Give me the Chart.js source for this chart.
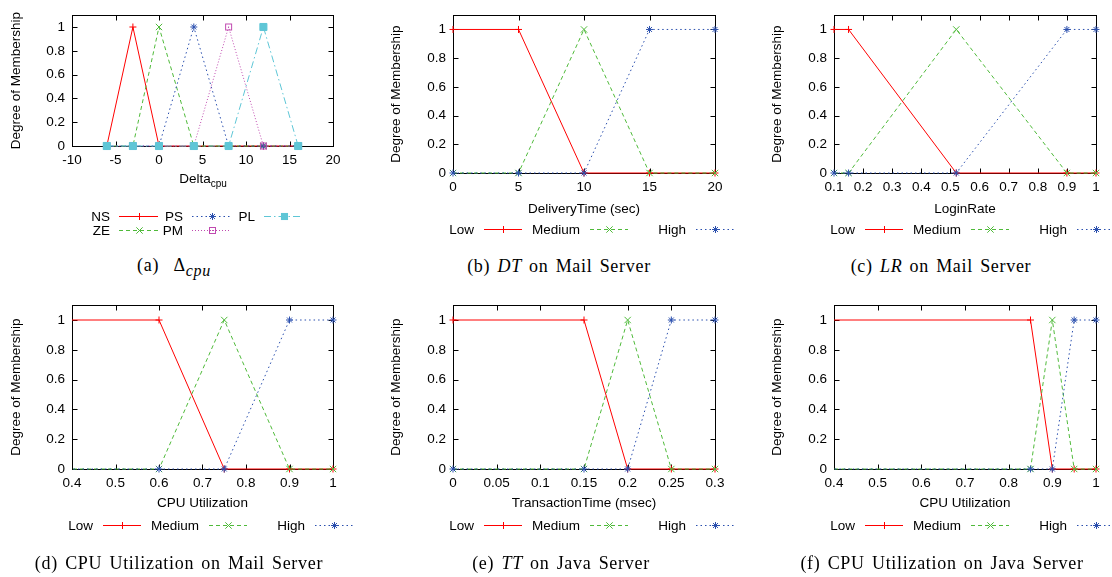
<!DOCTYPE html>
<html>
<head>
<meta charset="utf-8">
<script src="https://cdn.jsdelivr.net/npm/chart.js@4.4.1/dist/chart.umd.min.js"></script>
<style>
  html, body { margin: 0; padding: 0; background: #fff; }
  #fig { position: relative; width: 1112px; height: 577px; overflow: hidden; }
  canvas { position: absolute; }
  .cap { position: absolute; width: 380px; text-align: center; font-family: "Liberation Serif", "Times New Roman", serif;
         font-size: 18px; line-height: 20px; color: #000; white-space: nowrap; word-spacing: 2px; letter-spacing: 0.7px; }
  .cap sub { font-size: 16px; vertical-align: -5px; line-height: 0; }
  .xt { position: absolute; width: 120px; text-align: center; font-family: "Liberation Sans", Arial, sans-serif;
        font-size: 13.5px; line-height: 16px; color: #000; white-space: nowrap; }
  .xt sub { font-size: 10px; vertical-align: -4px; line-height: 0; }
</style>
</head>
<body>
<div id="fig">
  <canvas id="pa" width="370" height="250" style="left:0;top:0"></canvas>
  <canvas id="pb" width="370" height="250" style="left:370px;top:0"></canvas>
  <canvas id="pc" width="372" height="250" style="left:740px;top:0"></canvas>
  <canvas id="pd" width="370" height="287" style="left:0;top:290px"></canvas>
  <canvas id="pe" width="370" height="287" style="left:370px;top:290px"></canvas>
  <canvas id="pf" width="372" height="287" style="left:740px;top:290px"></canvas>

  <div class="xt" style="left:143px;top:171px">Delta<sub>cpu</sub></div>

  <div class="cap" style="left:-16px;top:255px">(a)&nbsp; Δ<sub><i>cpu</i></sub></div>
  <div class="cap" style="left:369px;top:256px">(b) <i>DT</i> on Mail Server</div>
  <div class="cap" style="left:751px;top:256px">(c) <i>LR</i> on Mail Server</div>
  <div class="cap" style="left:-11px;top:553px">(d) CPU Utilization on Mail Server</div>
  <div class="cap" style="left:371px;top:553px">(e) <i>TT</i> on Java Server</div>
  <div class="cap" style="left:752px;top:553px">(f) CPU Utilization on Java Server</div>
</div>
<script>
  // membership functions
  var yTicks = [0, 0.2, 0.4, 0.6, 0.8, 1];

  var deltaX = [-6, -3, 0, 4, 8, 12, 16];
  var deltaNS = [0, 1, 0, 0, 0, 0, 0];
  var deltaZE = [0, 0, 1, 0, 0, 0, 0];
  var deltaPS = [0, 0, 0, 1, 0, 0, 0];
  var deltaPM = [0, 0, 0, 0, 1, 0, 0];
  var deltaPL = [0, 0, 0, 0, 0, 1, 0];
  var deltaTicks = [-10, -5, 0, 5, 10, 15, 20];

  var dtX = [0, 5, 10, 15, 20];
  var dtLow = [1, 1, 0, 0, 0];
  var dtMedium = [0, 0, 1, 0, 0];
  var dtHigh = [0, 0, 0, 1, 1];
  var dtTicks = [0, 5, 10, 15, 20];

  var lrX = [0.1, 0.15, 0.52, 0.9, 1];
  var lrLow = [1, 1, 0, 0, 0];
  var lrMedium = [0, 0, 1, 0, 0];
  var lrHigh = [0, 0, 0, 1, 1];
  var lrTicks = [0.1, 0.2, 0.3, 0.4, 0.5, 0.6, 0.7, 0.8, 0.9, 1];

  var mailCpuX = [0, 0.6, 0.75, 0.9, 1];
  var mailCpuLow = [1, 1, 0, 0, 0];
  var mailCpuMedium = [0, 0, 1, 0, 0];
  var mailCpuHigh = [0, 0, 0, 1, 1];
  var cpuTicks = [0.4, 0.5, 0.6, 0.7, 0.8, 0.9, 1];

  var ttX = [0, 0.15, 0.2, 0.25, 0.3];
  var ttLow = [1, 1, 0, 0, 0];
  var ttMedium = [0, 0, 1, 0, 0];
  var ttHigh = [0, 0, 0, 1, 1];
  var ttTicks = [0, 0.05, 0.1, 0.15, 0.2, 0.25, 0.3];

  var javaCpuX = [0, 0.85, 0.9, 0.95, 1];
  var javaCpuLow = [1, 1, 0, 0, 0];
  var javaCpuMedium = [0, 0, 1, 0, 0];
  var javaCpuHigh = [0, 0, 0, 1, 1];

  var SANS = "'Liberation Sans', Arial, sans-serif";
  var FONT_SIZE = 13.5;
  var LH = FONT_SIZE * 1.2;
  Chart.defaults.font.family = SANS;
  Chart.defaults.font.size = FONT_SIZE;
  Chart.defaults.color = "#000";

  // open square with a dot (gnuplot pt 4-ish)
  var openSquare = document.createElement("canvas");
  openSquare.width = 9;
  openSquare.height = 9;
  (function () {
    var c = openSquare.getContext("2d");
    c.strokeStyle = "#c04ab0";
    c.lineWidth = 1;
    c.strokeRect(1.5, 1.5, 6, 6);
    c.fillStyle = "#c04ab0";
    c.fillRect(4, 4, 1, 1);
  })();

  var LOW = { color: "#ff0000", dash: [], marker: "cross", r: 3.5 };
  var MEDIUM = { color: "#4fba3a", dash: [4, 3], marker: "crossRot", r: 4.5 };
  var HIGH = { color: "#2a4fae", dash: [1.5, 3], marker: "star", r: 3.5 };
  var PM = { color: "#c04ab0", dash: [1, 2], marker: openSquare, r: 4.5 };
  var PL = { color: "#5ec6d6", dash: [7, 3, 1.5, 3], marker: "rect", r: 5 };

  function drawMarker(ctx, style, x, y) {
    var r = style.r, d = r * Math.SQRT1_2;
    ctx.save();
    ctx.setLineDash([]);
    ctx.strokeStyle = style.color;
    ctx.fillStyle = style.color;
    ctx.lineWidth = 1;
    ctx.beginPath();
    if (style.marker === "cross" || style.marker === "star") {
      ctx.moveTo(x - r, y); ctx.lineTo(x + r, y);
      ctx.moveTo(x, y - r); ctx.lineTo(x, y + r);
    }
    if (style.marker === "crossRot" || style.marker === "star") {
      ctx.moveTo(x - d, y - d); ctx.lineTo(x + d, y + d);
      ctx.moveTo(x - d, y + d); ctx.lineTo(x + d, y - d);
    }
    ctx.stroke();
    if (style.marker === "rect") {
      ctx.fillRect(x - d, y - d, 2 * d, 2 * d);
    } else if (typeof style.marker !== "string") {
      ctx.drawImage(style.marker, x - style.marker.width / 2, y - style.marker.height / 2);
    }
    ctx.restore();
  }

  function panel(id, p) {
    var canvas = document.getElementById(id);
    var W = canvas.width, H = canvas.height, HX = 60;
    var n = p.series.length;

    var datasets = p.series.map(function (s, i) {
      return {
        label: s.label,
        data: p.xs.map(function (x, k) { return { x: x, y: s.ys[k] }; }),
        borderColor: s.style.color,
        backgroundColor: s.style.color,
        borderWidth: 1,
        borderDash: s.style.dash,
        pointStyle: s.style.marker,
        pointRadius: s.style.r,
        pointHoverRadius: s.style.r,
        pointBorderWidth: 1,
        pointBorderColor: s.style.color,
        pointBackgroundColor: s.style.color,
        showLine: true,
        tension: 0,
        order: n - i,
        clip: p.clip
      };
    });

    var framePlugin = {
      id: "frame",
      beforeDatasetsDraw: function (chart) {
        var ctx = chart.ctx, a = chart.chartArea;
        var xs = chart.scales.x, ys = chart.scales.y;
        var L = Math.round(a.left) + 0.5, R = Math.round(a.right) + 0.5;
        var T = Math.round(a.top) + 0.5, B = Math.round(a.bottom) + 0.5;
        ctx.save();
        ctx.strokeStyle = "#000";
        ctx.lineWidth = 1;
        ctx.beginPath();
        p.xTicks.forEach(function (v) {
          var px = Math.round(xs.getPixelForValue(v)) + 0.5;
          ctx.moveTo(px, B); ctx.lineTo(px, B - 5);
          ctx.moveTo(px, T); ctx.lineTo(px, T + 5);
        });
        yTicks.forEach(function (v) {
          var py = Math.round(ys.getPixelForValue(v)) + 0.5;
          ctx.moveTo(L, py); ctx.lineTo(L + 5, py);
          ctx.moveTo(R, py); ctx.lineTo(R - 5, py);
        });
        ctx.stroke();
        ctx.strokeRect(L, T, R - L, B - T);
        ctx.restore();
      },
      afterDraw: function (chart) {
        var ctx = chart.ctx, a = chart.chartArea, lg = p.legend;
        ctx.save();
        ctx.font = FONT_SIZE + "px " + SANS;
        ctx.textAlign = "right";
        ctx.textBaseline = "middle";
        p.series.forEach(function (s, i) {
          var col = Math.floor(i / lg.rows), row = i % lg.rows;
          var xr = Math.round(a.left + lg.first + col * lg.step);
          var y = Math.round(a.bottom + lg.y + row * lg.rowStep) + 0.5;
          ctx.fillStyle = "#000";
          ctx.fillText(s.label, xr, y + 0.5);
          ctx.strokeStyle = s.style.color;
          ctx.lineWidth = 1;
          ctx.setLineDash(s.style.dash);
          ctx.beginPath();
          ctx.moveTo(xr + lg.gap, y);
          ctx.lineTo(xr + lg.gap + lg.len, y);
          ctx.stroke();
          ctx.setLineDash([]);
          drawMarker(ctx, s.style, Math.round(xr + lg.gap + lg.len / 2) + 0.5, y);
        });
        ctx.restore();
      }
    };

    return new Chart(canvas, {
      type: "scatter",
      data: { datasets: datasets },
      options: {
        responsive: false,
        animation: false,
        devicePixelRatio: 1,
        events: [],
        layout: { padding: { left: 0, top: p.area.t, right: W - p.area.r, bottom: H - p.area.b - HX } },
        plugins: { legend: { display: false }, tooltip: { enabled: false } },
        scales: {
          x: {
            type: "linear",
            min: p.xMin,
            max: p.xMax,
            grid: { display: false, drawTicks: false },
            border: { display: false },
            afterBuildTicks: function (scale) { scale.ticks = p.xTicks.map(function (v) { return { value: v }; }); },
            afterFit: function (scale) { scale.height = HX; },
            ticks: { padding: 6.4, maxRotation: 0, autoSkip: false, callback: function (v) { return String(v); } },
            title: p.xTitle ? {
              display: true,
              text: p.xTitle,
              padding: { top: 0, bottom: HX - p.xTitleOff - LH / 2 }
            } : { display: false }
          },
          y: {
            type: "linear",
            min: 0,
            max: 1.1,
            grid: { display: false, drawTicks: false },
            border: { display: false },
            afterBuildTicks: function (scale) { scale.ticks = yTicks.map(function (v) { return { value: v }; }); },
            afterFit: function (scale) { scale.width = p.area.l; },
            ticks: { padding: 7, autoSkip: false, callback: function (v) { return String(v); } },
            title: {
              display: true,
              text: "Degree of Membership",
              padding: { top: p.yTitleX - LH / 2, bottom: 0 }
            }
          }
        }
      },
      plugins: [framePlugin]
    });
  }

  var rowLegend = { first: 21, step: 106, rows: 1, y: 56, rowStep: 0, gap: 10, len: 38 };
  var clipAll = 8;
  var clipLeft = { left: 0, top: 8, right: 8, bottom: 8 };

  panel("pa", {
    xs: deltaX, xMin: -10, xMax: 20, xTicks: deltaTicks,
    series: [
      { label: "NS", ys: deltaNS, style: LOW },
      { label: "ZE", ys: deltaZE, style: MEDIUM },
      { label: "PS", ys: deltaPS, style: HIGH },
      { label: "PM", ys: deltaPM, style: PM },
      { label: "PL", ys: deltaPL, style: PL }
    ],
    area: { l: 72, t: 11, r: 333, b: 146 }, yTitleX: 16.7, xTitle: null,
    legend: { first: 38, step: 72.5, rows: 2, y: 70, rowStep: 14, gap: 9, len: 39 },
    clip: clipAll
  });

  panel("pb", {
    xs: dtX, xMin: 0, xMax: 20, xTicks: dtTicks,
    series: [
      { label: "Low", ys: dtLow, style: LOW },
      { label: "Medium", ys: dtMedium, style: MEDIUM },
      { label: "High", ys: dtHigh, style: HIGH }
    ],
    area: { l: 83, t: 11, r: 345, b: 173 }, yTitleX: 26.7, xTitle: "DeliveryTime (sec)", xTitleOff: 36,
    legend: rowLegend, clip: clipAll
  });

  panel("pc", {
    xs: lrX, xMin: 0.1, xMax: 1, xTicks: lrTicks,
    series: [
      { label: "Low", ys: lrLow, style: LOW },
      { label: "Medium", ys: lrMedium, style: MEDIUM },
      { label: "High", ys: lrHigh, style: HIGH }
    ],
    area: { l: 94, t: 11, r: 356, b: 173 }, yTitleX: 37.7, xTitle: "LoginRate", xTitleOff: 36,
    legend: rowLegend, clip: clipAll
  });

  panel("pd", {
    xs: mailCpuX, xMin: 0.4, xMax: 1, xTicks: cpuTicks,
    series: [
      { label: "Low", ys: mailCpuLow, style: LOW },
      { label: "Medium", ys: mailCpuMedium, style: MEDIUM },
      { label: "High", ys: mailCpuHigh, style: HIGH }
    ],
    area: { l: 72, t: 15, r: 333, b: 179 }, yTitleX: 16, xTitle: "CPU Utilization", xTitleOff: 34.3,
    legend: rowLegend, clip: clipLeft
  });

  panel("pe", {
    xs: ttX, xMin: 0, xMax: 0.3, xTicks: ttTicks,
    series: [
      { label: "Low", ys: ttLow, style: LOW },
      { label: "Medium", ys: ttMedium, style: MEDIUM },
      { label: "High", ys: ttHigh, style: HIGH }
    ],
    area: { l: 83, t: 15, r: 345, b: 179 }, yTitleX: 26.7, xTitle: "TransactionTime (msec)", xTitleOff: 34.3,
    legend: rowLegend, clip: clipAll
  });

  panel("pf", {
    xs: javaCpuX, xMin: 0.4, xMax: 1, xTicks: cpuTicks,
    series: [
      { label: "Low", ys: javaCpuLow, style: LOW },
      { label: "Medium", ys: javaCpuMedium, style: MEDIUM },
      { label: "High", ys: javaCpuHigh, style: HIGH }
    ],
    area: { l: 94, t: 15, r: 356, b: 179 }, yTitleX: 37.7, xTitle: "CPU Utilization", xTitleOff: 34.3,
    legend: rowLegend, clip: clipLeft
  });
</script>
</body>
</html>
